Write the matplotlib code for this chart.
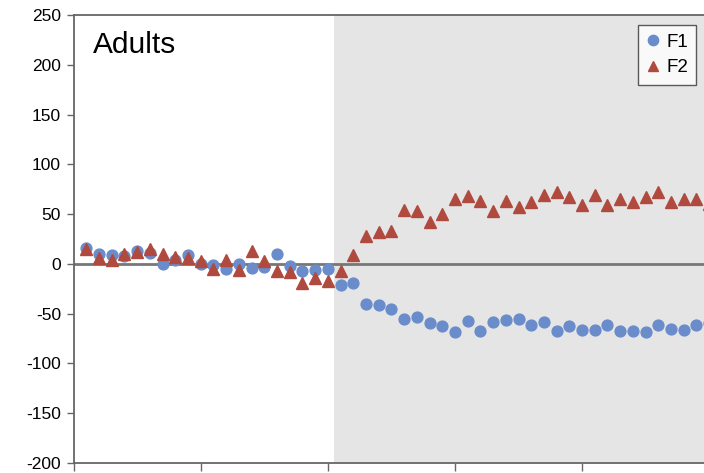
import matplotlib.pyplot as plt
import numpy as np

plt.rcParams['font.family'] = ['Liberation Sans', 'DejaVu Sans']
plt.rcParams['axes.unicode_minus'] = False

# sample number (1..50)
samples = np.arange(1, 51)

# F1 values
f1 = [16, 10, 9, 8, 13, 11, 0, 4, 9, 0,
      -1, -5, 0, -4, -3, 10, -2, -7, -6, -5,
      -21, -19, -40, -41, -45, -55, -53, -59, -62, -68,
      -57, -67, -58, -56, -55, -61, -58, -67, -62, -66,
      -66, -61, -67, -67, -68, -61, -65, -66, -61, -59]

# F2 values
f2 = [15, 6, 4, 10, 12, 15, 10, 7, 6, 3,
      -5, 4, -6, 13, 3, -7, -8, -19, -14, -17,
      -7, 9, 28, 32, 33, 54, 53, 42, 50, 65,
      68, 63, 53, 63, 57, 62, 69, 72, 67, 59,
      69, 59, 65, 62, 67, 72, 62, 65, 65, 60]

shade_start = 20.5
yticks = [-200, -150, -100, -50, 0, 50, 100, 150, 200, 250]

fig = plt.figure(figsize=(7.04, 4.73), dpi=100)
# axes run past the right edge of the picture, as in the original crop
ax = fig.add_axes([0.1045, 0.0211, 0.939, 0.947])

ax.axvspan(shade_start, 60, color='#e5e5e5', zorder=0, lw=0)
ax.axhline(0, color='#777777', lw=2, zorder=1)

ax.plot(samples, f1, 'o', color='#6a8ccb', markersize=7.8, label='F1', zorder=3)
ax.plot(samples, f2, '^', color='#b04a3e', markersize=8, label='F2', zorder=3)

ax.set_xlim(0, 52)
ax.set_ylim(-200, 250)
ax.set_yticks(yticks)
ax.set_xticks(np.arange(0, 60, 10))
ax.set_xticklabels([])
ax.tick_params(axis='y', direction='out', length=5, width=1, color='#666666',
               labelsize=12.5, pad=4)
ax.tick_params(axis='x', direction='out', length=6, width=1, color='#666666')

for side in ['left', 'bottom', 'top']:
    ax.spines[side].set_color('#666666')
    ax.spines[side].set_linewidth(1.3)
ax.spines['right'].set_visible(False)

ax.text(93 / 704, 0.888, 'Adults', transform=fig.transFigure, fontsize=21.5,
        ha='left', va='baseline')

leg = fig.legend(loc='upper left', bbox_to_anchor=(638 / 704, 1 - 25 / 473),
                 fontsize=13.5, frameon=True, fancybox=False, handlelength=0.75,
                 handletextpad=0.3, borderpad=0.45, labelspacing=0.45,
                 borderaxespad=0, markerscale=0.95)
leg.get_frame().set_edgecolor('#333333')
leg.get_frame().set_linewidth(1.0)
leg.get_frame().set_facecolor('white')

fig.savefig('out.png', dpi=100)
